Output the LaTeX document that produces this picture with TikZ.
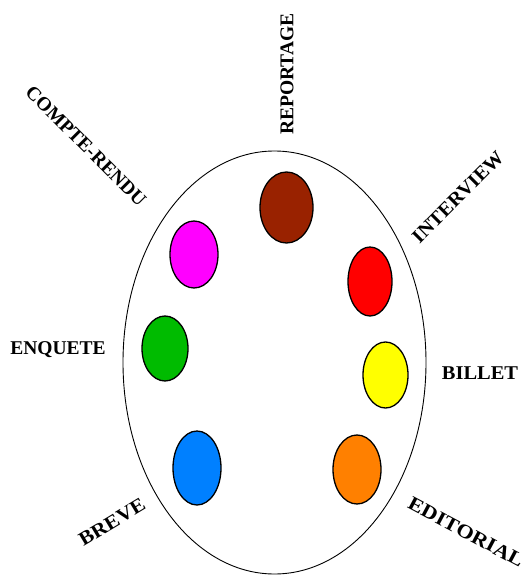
\documentclass[tikz,border=0pt]{standalone}
\usepackage{fontspec}
\setmainfont{Liberation Serif}
\usetikzlibrary{shapes.geometric}
\definecolor{cbrown}{RGB}{153,34,0}
\definecolor{cmagenta}{RGB}{255,0,255}
\definecolor{cred}{RGB}{255,0,0}
\definecolor{cgreen}{RGB}{0,187,0}
\definecolor{cyellow}{RGB}{255,255,0}
\definecolor{cblue}{RGB}{0,128,255}
\definecolor{corange}{RGB}{255,128,0}
\tikzset{
  palette/.style={ellipse, draw=black, line width=0.9pt, inner sep=0pt, minimum width=303pt, minimum height=423pt},
  blob/.style={ellipse, draw=black, line width=1.3pt, inner sep=0pt},
  lbl/.style={inner sep=0pt, font=\fontsize{19.5}{20}\selectfont\bfseries}
}
\begin{document}
\begin{tikzpicture}[x=1pt,y=-1pt]
\useasboundingbox (0,0) rectangle (528,575);
\node[palette] (pal) at (274.5,362.5) {};
\node[blob, fill=cbrown, minimum width=53pt, minimum height=71pt] (brown) at (286.5,207.5) {};
\node[blob, fill=cmagenta, minimum width=48pt, minimum height=67pt] (magenta) at (194,254.5) {};
\node[blob, fill=cred, minimum width=44pt, minimum height=69pt] (red) at (370,281.5) {};
\node[blob, fill=cgreen, minimum width=46pt, minimum height=65pt] (green) at (165,348.5) {};
\node[blob, fill=cyellow, minimum width=45pt, minimum height=66pt] (yellow) at (385.5,375) {};
\node[blob, fill=cblue, minimum width=48pt, minimum height=74pt] (blue) at (197,468) {};
\node[blob, fill=corange, minimum width=48pt, minimum height=69pt] (orange) at (357,469.5) {};
\node[lbl, rotate=90] (reportage) at (287,74) {REPORTAGE};
\node[lbl, rotate=-45] (compte) at (86,146) {COMPTE-RENDU};
\node[lbl, rotate=45] (interview) at (458,197) {\scalebox{1.05}[1]{INTERVIEW}};
\node[lbl] (enquete) at (58,350) {ENQUETE};
\node[lbl] (billet) at (480,373) {\scalebox{1.05}[1]{BILLET}};
\node[lbl, rotate=31] (breve) at (112,522) {\scalebox{1.1}[1]{BREVE}};
\node[lbl, rotate=-28] (editorial) at (466,532) {\scalebox{1.15}[1]{EDITORIAL}};
\end{tikzpicture}
\end{document}
